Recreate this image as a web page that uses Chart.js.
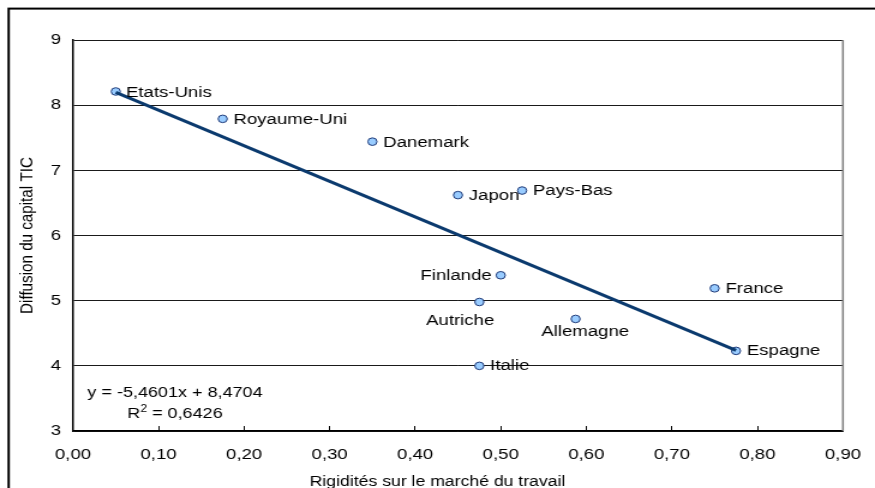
<!DOCTYPE html>
<html>
<head>
<meta charset="utf-8">
<script src="https://cdn.jsdelivr.net/npm/chart.js@4.4.1/dist/chart.umd.min.js"></script>
<style>
  html, body { margin: 0; padding: 0; background: #fff; }
  #chart { display: block; }
</style>
</head>
<body>
<!-- canvas is drawn narrow and widened by CSS, which gives the wide lettering -->
<canvas id="chart" width="729" height="488" style="width:875px;height:488px"></canvas>
<script>
const countries = ['Etats-Unis', 'Royaume-Uni', 'Danemark', 'Japon', 'Pays-Bas', 'Finlande',
                   'Autriche', 'Allemagne', 'Italie', 'France', 'Espagne'];
const rigidity = [0.05, 0.175, 0.35, 0.45, 0.525, 0.50, 0.475, 0.5875, 0.475, 0.75, 0.775];
const ictDiffusion = [8.21, 7.79, 7.44, 6.62, 6.69, 5.39, 4.98, 4.72, 4.00, 5.19, 4.23];

// linear fit shown on the chart
const trendSlope = -5.4601;
const trendIntercept = 8.4704;
const trendR2 = 0.6426;

const xTicks = [0, 0.1, 0.2, 0.3, 0.4, 0.5, 0.6, 0.7, 0.8, 0.9];
const yTicks = [3, 4, 5, 6, 7, 8, 9];

// where each country name sits relative to its point
const labelPlacement = [
  { dx: 8.5, dy: 1, align: 'left' },
  { dx: 9, dy: 1, align: 'left' },
  { dx: 9, dy: 1, align: 'left' },
  { dx: 9, dy: 1, align: 'left' },
  { dx: 9, dy: 0, align: 'left' },
  { dx: -7.5, dy: 0, align: 'right' },
  { dx: -16, dy: 19, align: 'center' },
  { dx: 8, dy: 13, align: 'center' },
  { dx: 9, dy: 0, align: 'left' },
  { dx: 9, dy: 0, align: 'left' },
  { dx: 9, dy: 0, align: 'left' }
];

const FONT = "'Liberation Sans', Arial, sans-serif";
const comma = (v, d) => v.toFixed(d).replace('.', ',');

const points = rigidity.map((x, i) => ({ x: x, y: ictDiffusion[i] }));
const xLo = Math.min(...rigidity), xHi = Math.max(...rigidity);
const trendLine = [xLo, xHi].map(x => ({ x: x, y: trendSlope * x + trendIntercept }));

// outer frame, right edge of the plot, country names and the fit equation
const decorations = {
  id: 'decorations',
  beforeDraw(chart) {
    const ctx = chart.ctx;
    ctx.save();
    ctx.strokeStyle = '#000';
    ctx.lineWidth = 2;
    ctx.strokeRect(7.2, 8.6, chart.width + 20, chart.height + 20);
    ctx.restore();
  },
  afterDatasetsDraw(chart) {
    const ctx = chart.ctx;
    const area = chart.chartArea;
    ctx.save();
    ctx.strokeStyle = '#808080';
    ctx.lineWidth = 1.6;
    ctx.beginPath();
    ctx.moveTo(area.right, area.top);
    ctx.lineTo(area.right, area.bottom);
    ctx.stroke();

    const meta = chart.getDatasetMeta(1);
    ctx.fillStyle = '#000';
    ctx.font = '15.5px ' + FONT;
    ctx.textBaseline = 'middle';
    meta.data.forEach((pt, i) => {
      const p = labelPlacement[i];
      ctx.textAlign = p.align;
      ctx.fillText(countries[i], pt.x + p.dx, pt.y + p.dy);
    });

    // equation and R² in the lower left corner
    const cx = area.left + 85;
    const sign = trendIntercept < 0 ? ' - ' : ' + ';
    const eq = 'y = ' + comma(trendSlope, 4) + 'x' + sign + comma(Math.abs(trendIntercept), 4);
    ctx.font = '15px ' + FONT;
    ctx.textAlign = 'center';
    ctx.fillText(eq, cx, area.bottom - 38.5);

    const rest = ' = ' + comma(trendR2, 4);
    ctx.font = '15px ' + FONT;
    const wR = ctx.measureText('R').width;
    const wRest = ctx.measureText(rest).width;
    ctx.font = '10px ' + FONT;
    const wSup = ctx.measureText('2').width;
    let x = cx - (wR + wSup + wRest) / 2;
    const y = area.bottom - 17;
    ctx.textAlign = 'left';
    ctx.font = '15px ' + FONT;
    ctx.fillText('R', x, y);
    x += wR;
    ctx.font = '10px ' + FONT;
    ctx.fillText('2', x, y - 5);
    x += wSup;
    ctx.font = '15px ' + FONT;
    ctx.fillText(rest, x, y);
    ctx.restore();
  }
};

new Chart(document.getElementById('chart'), {
  type: 'scatter',
  data: {
    datasets: [
      {
        type: 'line',
        data: trendLine,
        borderColor: '#0B3A6E',
        borderWidth: 3,
        pointRadius: 0,
        fill: false
      },
      {
        data: points,
        pointRadius: 3.8,
        pointBackgroundColor: '#99CCFF',
        pointBorderColor: '#1F3A78',
        pointBorderWidth: 1
      }
    ]
  },
  options: {
    responsive: false,
    animation: false,
    layout: { padding: { top: 40, left: 0, right: 0, bottom: 0 } },
    plugins: {
      legend: { display: false },
      tooltip: { enabled: false },
      title: {
        display: true,
        position: 'bottom',
        text: 'Rigidités sur le marché du travail',
        color: '#000',
        font: { family: FONT, size: 14.7, weight: 'normal', lineHeight: 0.8 },
        padding: { top: 0, bottom: 0 }
      }
    },
    scales: {
      x: {
        type: 'linear',
        min: 0,
        max: 0.9,
        afterBuildTicks: s => { s.ticks = xTicks.map(v => ({ value: v })); },
        afterFit: s => {
          s.height = 45.2;
          s.paddingLeft = 0;
          s.paddingRight = 0;
        },
        ticks: {
          color: '#000',
          padding: 19.5,
          font: { family: FONT, size: 15.5 },
          callback: v => comma(v, 2)
        },
        grid: { drawOnChartArea: false, drawTicks: true, tickLength: -5, color: '#000', lineWidth: 1 },
        border: { display: true, color: '#000', width: 1.5 }
      },
      y: {
        type: 'linear',
        min: 3,
        max: 9,
        afterBuildTicks: s => { s.ticks = yTicks.map(v => ({ value: v })); },
        afterFit: s => { s.width = 60.8; },
        ticks: {
          color: '#000',
          padding: 10,
          font: { family: FONT, size: 15.5 },
          callback: v => String(v)
        },
        title: {
          display: true,
          text: 'Diffusion du capital TIC',
          color: '#000',
          font: { family: FONT, size: 15.2 },
          padding: { top: 13.4, bottom: 0 }
        },
        grid: { drawTicks: false, color: '#1a1a1a', lineWidth: 1 },
        border: { display: true, color: '#000', width: 1.5 }
      },
      // empty strip on the right so the chart area stops short of the edge
      gap: {
        position: 'right',
        display: true,
        ticks: { display: false },
        grid: { display: false },
        border: { display: false },
        afterFit: s => { s.width = 26.7; }
      }
    }
  },
  plugins: [decorations]
});
</script>
</body>
</html>
